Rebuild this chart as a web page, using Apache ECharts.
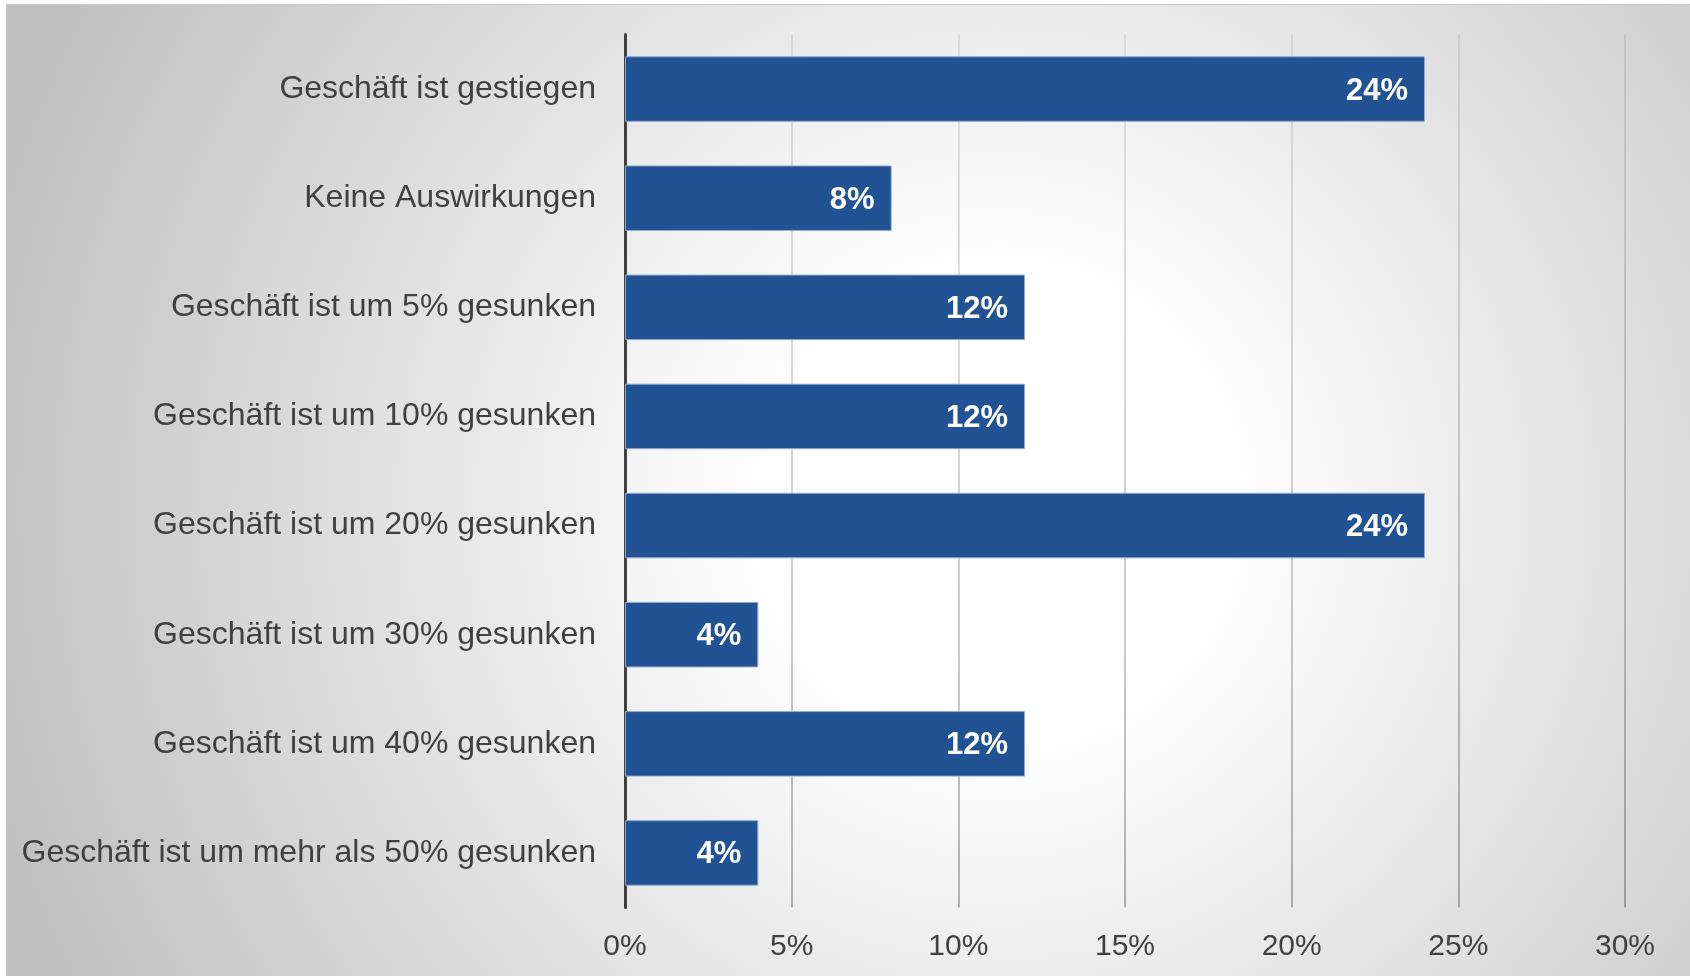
<!DOCTYPE html>
<html>
<head>
<meta charset="utf-8">
<title>Auswirkungen auf das Geschäft</title>
<script src="https://cdn.jsdelivr.net/npm/echarts@6/dist/echarts.min.js"></script>
<style>
  html, body { margin: 0; padding: 0; background: #ffffff; }
  #wrap {
    position: absolute;
    left: 6px;
    top: 4px;
    width: 1684px;
    height: 971px;
    border-top: 1px solid #c8c8c8;
    border-left: 1px solid #c4c4c4;
    background: radial-gradient(ellipse 1050px 1050px at 990px 500px, #ffffff 0%, #ffffff 22%, #c0c0c0 100%);
  }
  #chart { width: 100%; height: 100%; }
</style>
</head>
<body>
<div id="wrap"><div id="chart"></div></div>
<script>
// Kategorien (von oben nach unten)
const categories = [
  'Geschäft ist gestiegen',
  'Keine Auswirkungen',
  'Geschäft ist um 5% gesunken',
  'Geschäft ist um 10% gesunken',
  'Geschäft ist um 20% gesunken',
  'Geschäft ist um 30% gesunken',
  'Geschäft ist um 40% gesunken',
  'Geschäft ist um mehr als 50% gesunken'
]
// Anteile in %
const values = [24, 8, 12, 12, 24, 4, 12, 4]
// x-Achse
const xMin = 0
const xMax = 30
const xStep = 5

const textColor = '#404040'
const fontFamily = '"Liberation Sans", Arial, sans-serif'

const chart = echarts.init(document.getElementById('chart'))

const option = {
  backgroundColor: 'transparent',
  animation: false,
  grid: {
    left: 618,
    top: 29.5,
    width: 1000,
    height: 873
  },
  xAxis: {
    type: 'value',
    min: xMin,
    max: xMax,
    interval: xStep,
    axisLine: { show: false },
    axisTick: { show: false },
    axisLabel: {
      formatter: '{value}%',
      color: textColor,
      fontSize: 30,
      fontFamily: fontFamily,
      margin: 24
    },
    splitLine: {
      show: true,
      lineStyle: {
        width: 1.5,
        color: {
          type: 'linear',
          x: 0, y: 0, x2: 0, y2: 1,
          colorStops: [
            { offset: 0, color: 'rgba(0,0,0,0.10)' },
            { offset: 1, color: 'rgba(0,0,0,0.36)' }
          ]
        }
      }
    }
  },
  yAxis: {
    type: 'category',
    inverse: true,
    data: categories,
    axisLine: {
      show: true,
      lineStyle: { color: '#404040', width: 3 }
    },
    axisTick: { show: false },
    splitLine: { show: false },
    axisLabel: {
      color: textColor,
      fontSize: 32,
      fontFamily: fontFamily,
      margin: 29,
      padding: [2, 0, 0, 0]
    }
  },
  series: [
    {
      type: 'bar',
      data: values,
      barCategoryGap: '40%',
      itemStyle: {
        color: '#215294',
        borderColor: '#8fa9cf',
        borderWidth: 1
      },
      label: {
        show: true,
        position: 'insideRight',
        distance: 17,
        offset: [0, 2],
        formatter: '{c}%',
        color: '#ffffff',
        fontSize: 31,
        fontWeight: 'bold',
        fontFamily: fontFamily
      }
    }
  ]
}

chart.setOption(option)
</script>
</body>
</html>
